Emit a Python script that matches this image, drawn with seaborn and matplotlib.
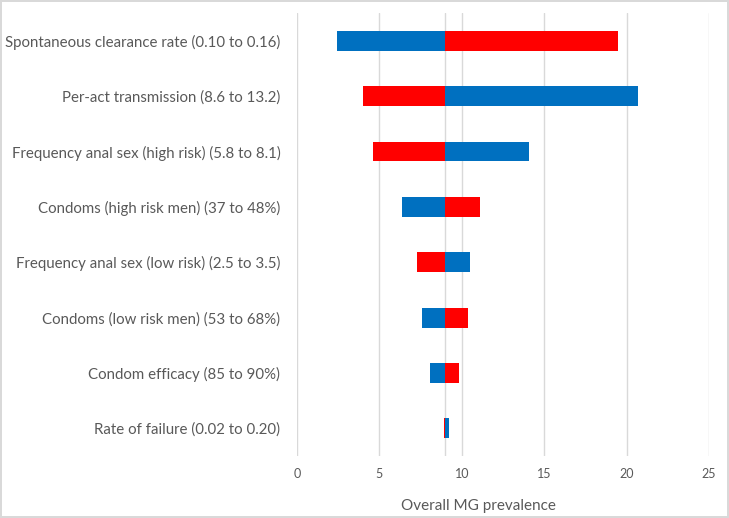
import pandas as pd
import matplotlib.pyplot as plt
import seaborn as sns

# Parameters (top to bottom) and model outcome at low / high parameter value
params = [
    'Spontaneous clearance rate (0.10 to 0.16)',
    'Per-act transmission (8.6 to 13.2)',
    'Frequency anal sex (high risk) (5.8 to 8.1)',
    'Condoms (high risk men) (37 to 48%)',
    'Frequency anal sex (low risk) (2.5 to 3.5)',
    'Condoms (low risk men) (53 to 68%)',
    'Condom efficacy (85 to 90%)',
    'Rate of failure (0.02 to 0.20)',
]
low_value = [19.5, 4.0, 4.6, 11.1, 7.3, 10.4, 9.8, 8.9]
high_value = [2.4, 20.7, 14.1, 6.4, 10.5, 7.6, 8.1, 9.25]
base_value = 9.0

df = pd.DataFrame({
    'param': params * 2,
    'setting': ['low'] * len(params) + ['high'] * len(params),
    'value': low_value + high_value,
})
df['delta'] = df['value'] - base_value

sns.set_theme(style='white')
plt.rcParams['font.family'] = ['Lato', 'DejaVu Sans']
text_col = '#595959'
grid_col = '#D9D9D9'

fig = plt.figure(figsize=(7.29, 5.18), dpi=100)
ax = fig.add_axes([0.4074, 0.1197, 0.5652, 0.855])

sns.barplot(data=df, y='param', x='delta', hue='setting', order=params,
            palette={'low': '#FF0000', 'high': '#0070C0'}, saturation=1,
            dodge=False, width=0.36, left=base_value, linewidth=0,
            legend=False, ax=ax, zorder=3)

ax.set_xlim(0, 25)
ax.set_xticks(range(0, 26, 5))
ax.set_ylim(len(params) - 0.5, -0.5)
ax.grid(axis='x', color=grid_col, linewidth=1, zorder=0)
ax.axvline(base_value, color=grid_col, linewidth=1, zorder=2)
for s in ax.spines.values():
    s.set_visible(False)

ax.tick_params(axis='x', length=0, pad=9, labelsize=9, labelcolor=text_col)
ax.tick_params(axis='y', length=0, pad=12, labelsize=10.8, labelcolor=text_col)
ax.set_ylabel('')
ax.set_xlabel('Overall MG prevalence', fontsize=11, color=text_col)
ax.xaxis.set_label_coords(0.44, -0.097)

fig.patch.set_edgecolor(grid_col)
fig.patch.set_linewidth(1.5)
fig.savefig('out.png', dpi=100)
